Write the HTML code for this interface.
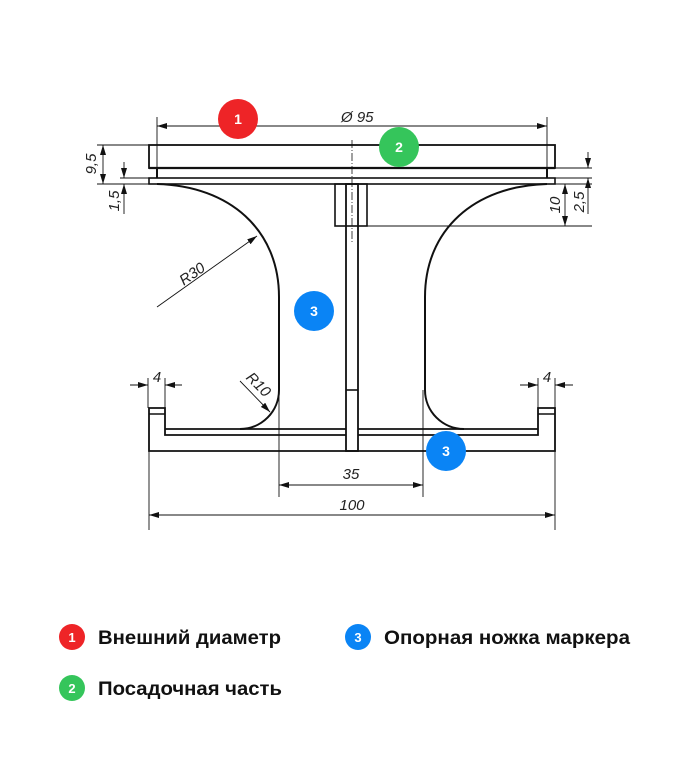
<!DOCTYPE html>
<html><head><meta charset="utf-8"><style>
body{margin:0;background:#fff;width:688px;height:781px;overflow:hidden;font-family:"Liberation Sans",sans-serif}
svg{position:absolute;left:0;top:0}
</style></head><body>
<svg width="688" height="781" viewBox="0 0 688 781" xmlns="http://www.w3.org/2000/svg">
<defs>
<marker id="a" viewBox="0 0 10 6" refX="10" refY="3" markerWidth="10" markerHeight="6" orient="auto-start-reverse" markerUnits="userSpaceOnUse"><path d="M0,0L10,3L0,6z" fill="#111"/></marker>
</defs>
<g fill="none" stroke="#111">
<rect x="149" y="145" width="406" height="23" stroke-width="1.8"/>
<path d="M157,168V178M547,168V178" stroke-width="2"/>
<line x1="149" y1="168" x2="555" y2="168" stroke-width="2.2"/>
<rect x="149" y="178" width="406" height="6" stroke-width="1.6"/>
<rect x="335" y="184" width="32" height="42" stroke-width="1.6"/>
<rect x="346" y="184" width="12" height="267" stroke-width="1.8"/>
<line x1="346" y1="390" x2="358" y2="390" stroke-width="1.6"/>
<line x1="352" y1="140" x2="352" y2="242" stroke-width="0.8" stroke-dasharray="8,2,1,2"/>
<path d="M157,184 C230,186 279,230 279,297 V390 A39,39 0 0 1 240,429" stroke-width="2"/>
<path d="M547,184 C474,186 425,230 425,297 V390 A39,39 0 0 0 464,429" stroke-width="2"/>
<path d="M346,435 H165 V408 H149 V451 H555 V408 H538 V435 H358" stroke-width="1.8"/>
<path d="M149,414H165M538,414H555" stroke-width="1.4"/>
<path d="M165,429H346M358,429H538" stroke-width="1.8"/>
<g stroke-width="0.9">
<path d="M157,117V168M547,117V168"/>
<line x1="157" y1="126" x2="547" y2="126" marker-start="url(#a)" marker-end="url(#a)"/>
<path d="M97,145H149M97,184H149M120,178H149"/>
<line x1="103" y1="145" x2="103" y2="184" marker-start="url(#a)" marker-end="url(#a)"/>
<line x1="124" y1="162" x2="124" y2="178" marker-end="url(#a)"/>
<line x1="124" y1="214" x2="124" y2="184" marker-end="url(#a)"/>
<path d="M555,168H592M555,178H592M555,184H592M367,226H592"/>
<line x1="565" y1="184" x2="565" y2="226" marker-start="url(#a)" marker-end="url(#a)"/>
<line x1="588" y1="152" x2="588" y2="168" marker-end="url(#a)"/>
<line x1="588" y1="214" x2="588" y2="178" marker-end="url(#a)"/>
<line x1="157" y1="307" x2="257" y2="236" marker-end="url(#a)"/>
<line x1="240" y1="381" x2="270" y2="412" marker-end="url(#a)"/>
<path d="M148,378V408M165,378V408M538,378V408M555,378V408"/>
<line x1="130" y1="385" x2="148" y2="385" marker-end="url(#a)"/>
<line x1="182" y1="385" x2="165" y2="385" marker-end="url(#a)"/>
<line x1="520" y1="385" x2="538" y2="385" marker-end="url(#a)"/>
<line x1="573" y1="385" x2="555" y2="385" marker-end="url(#a)"/>
<path d="M279,390V497M423,390V497M149,451V530M555,451V530"/>
<line x1="279" y1="485" x2="423" y2="485" marker-start="url(#a)" marker-end="url(#a)"/>
<line x1="149" y1="515" x2="555" y2="515" marker-start="url(#a)" marker-end="url(#a)"/>
</g>
</g>
<g font-family="Liberation Sans,sans-serif" font-style="italic" font-size="15" fill="#222">
<text x="341" y="122">Ø 95</text>
<text transform="translate(96,164) rotate(-90)" text-anchor="middle">9,5</text>
<text transform="translate(119,201) rotate(-90)" text-anchor="middle">1,5</text>
<text transform="translate(560,205) rotate(-90)" text-anchor="middle">10</text>
<text transform="translate(584,202) rotate(-90)" text-anchor="middle">2,5</text>
<text transform="translate(195,278) rotate(-35)" text-anchor="middle">R30</text>
<text transform="translate(255,388) rotate(45)" text-anchor="middle">R10</text>
<text x="157" y="382" text-anchor="middle">4</text>
<text x="547" y="382" text-anchor="middle">4</text>
<text x="351" y="479" text-anchor="middle">35</text>
<text x="352" y="510" text-anchor="middle">100</text>
</g>
<g font-family="Liberation Sans,sans-serif" font-weight="bold" font-size="14" fill="#fff" text-anchor="middle">
<circle cx="238" cy="119" r="20" fill="#ee2427"/><text x="238" y="124">1</text>
<circle cx="399" cy="147" r="20" fill="#35c55b"/><text x="399" y="152">2</text>
<circle cx="314" cy="311" r="20" fill="#0a84f5"/><text x="314" y="316">3</text>
<circle cx="446" cy="451" r="20" fill="#0a84f5"/><text x="446" y="456">3</text>
<g font-size="13">
<circle cx="72" cy="637" r="13" fill="#ee2427"/><text x="72" y="642">1</text>
<circle cx="72" cy="688" r="13" fill="#35c55b"/><text x="72" y="693">2</text>
<circle cx="358" cy="637" r="13" fill="#0a84f5"/><text x="358" y="642">3</text>
</g>
</g>
<g font-family="Liberation Sans,sans-serif" font-weight="bold" font-size="19" fill="#111">
<text x="98" y="644" textLength="183" lengthAdjust="spacingAndGlyphs">Внешний диаметр</text>
<text x="98" y="695" textLength="184" lengthAdjust="spacingAndGlyphs">Посадочная часть</text>
<text x="384" y="644" textLength="246" lengthAdjust="spacingAndGlyphs">Опорная ножка маркера</text>
</g>
</svg>
</body></html>
